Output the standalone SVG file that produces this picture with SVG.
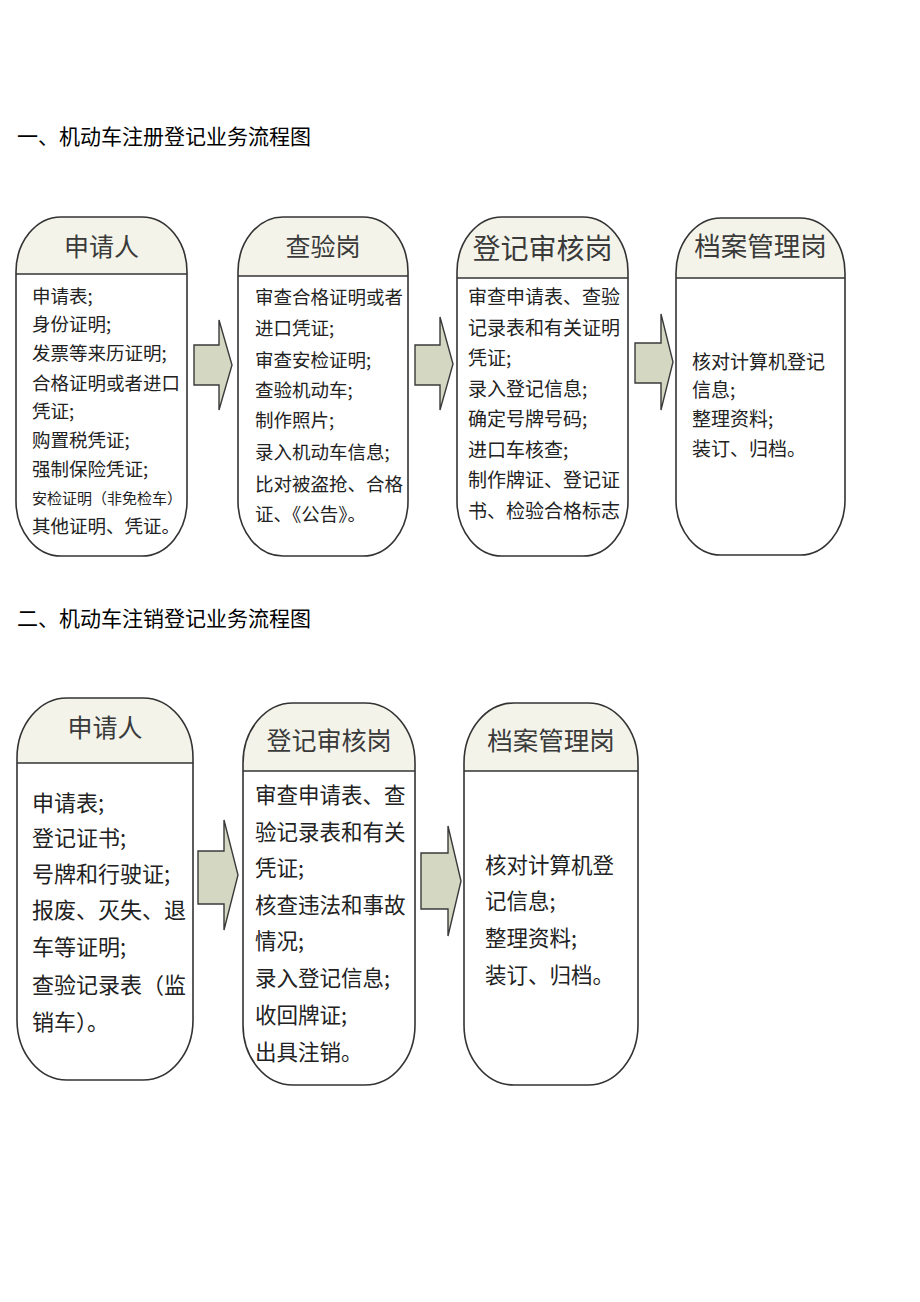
<svg xmlns="http://www.w3.org/2000/svg" width="920" height="1302" viewBox="0 0 920 1302">
<style>
.bg{fill:#ffffff}
.box{fill:none;stroke:#333333;stroke-width:1.6}
.hdr{fill:#f3f3ea;stroke:none}
.hline{stroke:#333333;stroke-width:1.6}
.body{fill:#ffffff;stroke:none}
.arrow{fill:#d4d8c2;stroke:#3a3a3a;stroke-width:1.4;stroke-linejoin:miter}
text{font-family:"Noto Sans CJK SC","Noto Sans",sans-serif}
.title{font-size:21px;fill:#000000}
.htxt{fill:#3a3a3a;text-anchor:middle}
.t1{fill:#222222;font-size:18.5px}
.t1b{fill:#222222;font-size:19px}
.t1s{fill:#222222;font-size:15px}
.t2{fill:#222222;font-size:21.5px}
.t2b{fill:#222222;font-size:22px}
</style>
<rect class="bg" x="0" y="0" width="920" height="1302"/>

<text class="title" x="17" y="144">一、机动车注册登记业务流程图</text>
<text class="title" x="17" y="626">二、机动车注销登记业务流程图</text>

<!-- Section 1 -->
<g id="s1-applicant">
  <rect class="body" x="16" y="217" width="171" height="339" rx="45" ry="55"/>
  <path class="hdr" d="M16,274 V272 A45,55 0 0 1 61,217 H142 A45,55 0 0 1 187,272 V274 Z"/>
  <line class="hline" x1="16" y1="274" x2="187" y2="274"/>
  <rect class="box" x="16" y="217" width="171" height="339" rx="45" ry="55"/>
  <text class="htxt" x="101.5" y="255.5" style="font-size:25px">申请人</text>
  <text class="t1" x="32" y="303">申请表;</text>
  <text class="t1" x="32" y="331">身份证明;</text>
  <text class="t1" x="32" y="360">发票等来历证明;</text>
  <text class="t1" x="32" y="390">合格证明或者进口</text>
  <text class="t1" x="32" y="418">凭证;</text>
  <text class="t1" x="32" y="447">购置税凭证;</text>
  <text class="t1" x="32" y="476">强制保险凭证;</text>
  <text class="t1s" x="32" y="504">安检证明（非免检车）</text>
  <text class="t1" x="32" y="533">其他证明、凭证。</text>
</g>

<g id="s1-inspection">
  <rect class="body" x="238" y="217" width="170" height="339" rx="45" ry="55"/>
  <path class="hdr" d="M238,276 V272 A45,55 0 0 1 283,217 H363 A45,55 0 0 1 408,272 V276 Z"/>
  <line class="hline" x1="238" y1="276" x2="408" y2="276"/>
  <rect class="box" x="238" y="217" width="170" height="339" rx="45" ry="55"/>
  <text class="htxt" x="323" y="255.5" style="font-size:25px">查验岗</text>
  <text class="t1" x="255" y="304">审查合格证明或者</text>
  <text class="t1" x="255" y="335">进口凭证;</text>
  <text class="t1" x="255" y="367">审查安检证明;</text>
  <text class="t1" x="255" y="397">查验机动车;</text>
  <text class="t1" x="255" y="427">制作照片;</text>
  <text class="t1" x="255" y="459">录入机动车信息;</text>
  <text class="t1" x="255" y="491">比对被盗抢、合格</text>
  <text class="t1" x="255" y="521">证、《公告》。</text>
</g>

<g id="s1-review">
  <rect class="body" x="457" y="217" width="171" height="339" rx="45" ry="55"/>
  <path class="hdr" d="M457,278 V272 A45,55 0 0 1 502,217 H583 A45,55 0 0 1 628,272 V278 Z"/>
  <line class="hline" x1="457" y1="278" x2="628" y2="278"/>
  <rect class="box" x="457" y="217" width="171" height="339" rx="45" ry="55"/>
  <text class="htxt" x="542.5" y="259" style="font-size:28px">登记审核岗</text>
  <text class="t1b" x="468" y="304">审查申请表、查验</text>
  <text class="t1b" x="468" y="334.5">记录表和有关证明</text>
  <text class="t1b" x="468" y="365">凭证;</text>
  <text class="t1b" x="468" y="395.5">录入登记信息;</text>
  <text class="t1b" x="468" y="426">确定号牌号码;</text>
  <text class="t1b" x="468" y="456.5">进口车核查;</text>
  <text class="t1b" x="468" y="487">制作牌证、登记证</text>
  <text class="t1b" x="468" y="517.5">书、检验合格标志</text>
</g>

<g id="s1-archive">
  <rect class="body" x="676" y="218" width="169" height="337" rx="45" ry="55"/>
  <path class="hdr" d="M676,278 V273 A45,55 0 0 1 721,218 H800 A45,55 0 0 1 845,273 V278 Z"/>
  <line class="hline" x1="676" y1="278" x2="845" y2="278"/>
  <rect class="box" x="676" y="218" width="169" height="337" rx="45" ry="55"/>
  <text class="htxt" x="760.5" y="256" style="font-size:26.5px">档案管理岗</text>
  <text class="t1b" x="692" y="369">核对计算机登记</text>
  <text class="t1b" x="692" y="397">信息;</text>
  <text class="t1b" x="692" y="426">整理资料;</text>
  <text class="t1b" x="692" y="456">装订、归档。</text>
</g>

<!-- Section 2 -->
<g id="s2-applicant">
  <rect class="body" x="17" y="698" width="176" height="382" rx="50" ry="60"/>
  <path class="hdr" d="M17,763 V758 A50,60 0 0 1 67,698 H143 A50,60 0 0 1 193,758 V763 Z"/>
  <line class="hline" x1="17" y1="763" x2="193" y2="763"/>
  <rect class="box" x="17" y="698" width="176" height="382" rx="50" ry="60"/>
  <text class="htxt" x="105" y="736.5" style="font-size:25px">申请人</text>
  <text class="t2b" x="32" y="811">申请表;</text>
  <text class="t2b" x="32" y="846">登记证书;</text>
  <text class="t2b" x="32" y="882">号牌和行驶证;</text>
  <text class="t2b" x="32" y="918">报废、灭失、退</text>
  <text class="t2b" x="32" y="955">车等证明;</text>
  <text class="t2b" x="32" y="993">查验记录表（监</text>
  <text class="t2b" x="32" y="1030">销车）。</text>
</g>

<g id="s2-review">
  <rect class="body" x="243" y="703" width="172" height="382" rx="50" ry="60"/>
  <path class="hdr" d="M243,771 V763 A50,60 0 0 1 293,703 H365 A50,60 0 0 1 415,763 V771 Z"/>
  <line class="hline" x1="243" y1="771" x2="415" y2="771"/>
  <rect class="box" x="243" y="703" width="172" height="382" rx="50" ry="60"/>
  <text class="htxt" x="329" y="749.5" style="font-size:25px">登记审核岗</text>
  <text class="t2" x="255" y="803">审查申请表、查</text>
  <text class="t2" x="255" y="840">验记录表和有关</text>
  <text class="t2" x="255" y="876">凭证;</text>
  <text class="t2" x="255" y="913">核查违法和事故</text>
  <text class="t2" x="255" y="949">情况;</text>
  <text class="t2" x="255" y="986">录入登记信息;</text>
  <text class="t2" x="255" y="1023">收回牌证;</text>
  <text class="t2" x="255" y="1060">出具注销。</text>
</g>

<g id="s2-archive">
  <rect class="body" x="464" y="703" width="174" height="382" rx="50" ry="60"/>
  <path class="hdr" d="M464,771 V763 A50,60 0 0 1 514,703 H588 A50,60 0 0 1 638,763 V771 Z"/>
  <line class="hline" x1="464" y1="771" x2="638" y2="771"/>
  <rect class="box" x="464" y="703" width="174" height="382" rx="50" ry="60"/>
  <text class="htxt" x="551" y="749.5" style="font-size:25.5px">档案管理岗</text>
  <text class="t2" x="485" y="873">核对计算机登</text>
  <text class="t2" x="485" y="909">记信息;</text>
  <text class="t2" x="485" y="946">整理资料;</text>
  <text class="t2" x="485" y="983">装订、归档。</text>
</g>

<g id="connectors">
  <polygon class="arrow" points="194,345 219,345 219,320 232,365 219,410 219,385 194,385"/>
  <polygon class="arrow" points="415,345 440,345 440,317 453,364 440,410 440,385 415,385"/>
  <polygon class="arrow" points="635,343 661,343 661,314 673,362 661,410 661,383 635,383"/>
  <polygon class="arrow" points="198,851 224,851 224,820 238,875 224,930 224,904 198,904"/>
  <polygon class="arrow" points="421,853 448,853 448,826 461,881 448,936 448,909 421,909"/>
</g>
</svg>
